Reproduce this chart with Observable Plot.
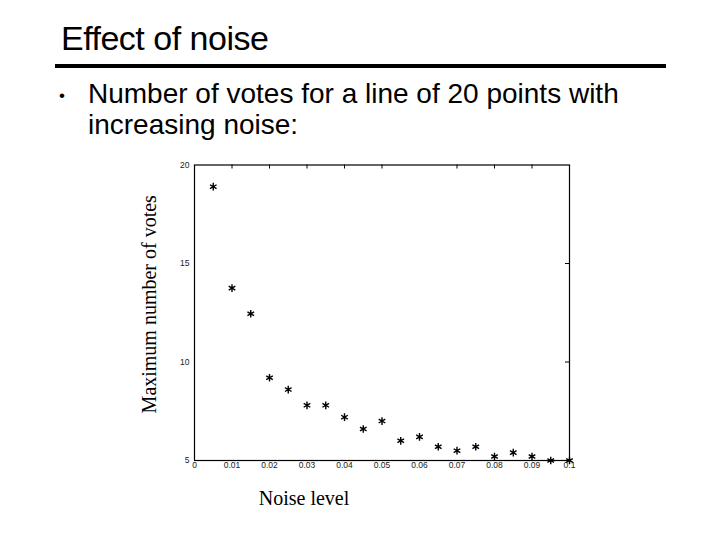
<!DOCTYPE html>
<html>
<head>
<meta charset="utf-8">
<script src="https://cdn.jsdelivr.net/npm/d3@7"></script>
<script src="https://cdn.jsdelivr.net/npm/@observablehq/plot@0.6"></script>
<style>
  html, body { margin: 0; padding: 0; background: #fff; }
  body { width: 720px; height: 540px; position: relative; overflow: hidden; font-family: "Liberation Sans", Arial, sans-serif; }
  #title { position: absolute; left: 61px; top: 18px; font-size: 34px; line-height: 40px; color: #000; letter-spacing: -0.5px; }
  #rule { position: absolute; left: 55px; top: 64px; width: 611px; height: 4px; background: #000; }
  #bullet { position: absolute; left: 58px; top: 78px; font-size: 28px; line-height: 31px; color: #000; }
  #bullet .dot { position: absolute; left: 1px; top: 2px; font-size: 17px; }
  #bullet .txt { position: absolute; left: 30px; top: 0; white-space: nowrap; }
  #chart { position: absolute; left: 0; top: 140px; }
</style>
</head>
<body>
<div id="title">Effect of noise</div>
<div id="rule"></div>
<div id="bullet"><span class="dot">•</span><span class="txt">Number of votes for a line of 20 points with<br>increasing noise:</span></div>
<div id="chart"></div>
<script>
const noise = [0.005, 0.01, 0.015, 0.02, 0.025, 0.03, 0.035, 0.04, 0.045, 0.05,
               0.055, 0.06, 0.065, 0.07, 0.075, 0.08, 0.085, 0.09, 0.095, 0.1];
const votes = [18.9, 13.75, 12.45, 9.2, 8.6, 7.8, 7.8, 7.2, 6.6, 7.0,
               6.0, 6.2, 5.7, 5.5, 5.7, 5.2, 5.4, 5.2, 5.0, 5.0];
const xTicks = [0, 0.01, 0.02, 0.03, 0.04, 0.05, 0.06, 0.07, 0.08, 0.09, 0.1];
const yTicks = [5, 10, 15, 20];
const topTicks = [0.01, 0.02, 0.03, 0.04, 0.05, 0.07, 0.08, 0.09];
const rightTicks = [10, 15];
const xLabel = "Noise level";
const yLabel = "Maximum number of votes";

const data = noise.map((x, i) => ({x, y: votes[i]}));

const marginTop = 24.5, marginBottom = 80, H = 400;
const frameH = H - marginTop - marginBottom;
const marginLeft = 194, marginRight = 151, W = 720;
const frameW = W - marginLeft - marginRight;

const chart = Plot.plot({
  width: W,
  height: H,
  marginLeft, marginRight, marginTop, marginBottom,
  x: {domain: [0, 0.1]},
  y: {domain: [5, 20]},
  style: {fontFamily: "'Liberation Sans', Arial, sans-serif", background: "#fff"},
  marks: [
    Plot.axisX({ticks: xTicks, tickSize: 0, tickPadding: 1, fontSize: 8.5, tickFormat: d => String(d), label: null, color: "#222"}),
    Plot.axisY({ticks: yTicks, tickSize: 0, tickPadding: 5, fontSize: 8.5, tickFormat: d => String(d), label: null, color: "#222"}),
    Plot.tickX(topTicks, {x: d => d, insetBottom: frameH - 4, stroke: "#000", strokeWidth: 1}),
    Plot.tickY(rightTicks, {y: d => d, insetLeft: frameW - 4, stroke: "#000", strokeWidth: 1}),
    Plot.frame({stroke: "#000", strokeWidth: 1.2}),
    Plot.dot(data, {x: "x", y: "y", symbol: "asterisk", r: 3.6, stroke: "#000", strokeWidth: 1.4}),
    Plot.text([yLabel], {frameAnchor: "left", textAnchor: "middle", rotate: -90, dx: -45, dy: -8.5, fontSize: 20, fontFamily: "'Liberation Serif', 'Times New Roman', serif", fill: "#000", text: d => d}),
    Plot.text([xLabel], {frameAnchor: "bottom", textAnchor: "middle", dx: -78, dy: 44, fontSize: 20, fontFamily: "'Liberation Serif', 'Times New Roman', serif", fill: "#000", text: d => d})
  ]
});
document.getElementById("chart").appendChild(chart);
</script>
</body>
</html>
